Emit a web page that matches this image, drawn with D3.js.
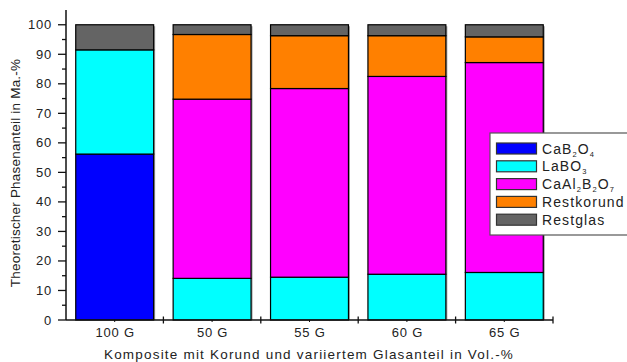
<!DOCTYPE html>
<html><head><meta charset="utf-8">
<script src="https://cdn.jsdelivr.net/npm/d3@7"></script>
<style>
body{margin:0;background:#fff;}
svg{display:block;font-family:"Liberation Sans",Arial,sans-serif;}
</style></head>
<body><svg id="c" width="627" height="362"></svg>
<script>
const categories = ["100 G","50 G","55 G","60 G","65 G"];
const seriesNames = ["CaB2O4","LaBO3","CaAl2B2O7","Restkorund","Restglas"];
const CaB2O4     = [56.2, 0,    0,    0,    0];
const LaBO3      = [35.3, 14.1, 14.5, 15.5, 16.1];
const CaAl2B2O7  = [0,    60.7, 63.9, 67.0, 71.1];
const Restkorund = [0,    21.9, 17.9, 13.8, 8.7];
const Restglas   = [8.5,  3.3,  3.7,  3.7,  4.1];
const yTicks = [0,10,20,30,40,50,60,70,80,90,100];
const colors = ["#0000ff","#00ffff","#ff00ff","#ff8000","#646464"];
// legend labels: [text, isSubscript] parts
const legendParts = [
  [["Ca",0],["B",0],["2",1],["O",0],["4",1]],
  [["LaBO",0],["3",1]],
  [["CaAl",0],["2",1],["B",0],["2",1],["O",0],["7",1]],
  [["Restkorund",0]],
  [["Restglas",0]]
];

const svg = d3.select("#c");
const x0 = 66, x1 = 553, yBase = 320, yTop = 10;
const x = d3.scaleBand().domain(categories).range([x0, x1]).paddingInner(0.2).paddingOuter(0.1);
const y = d3.scaleLinear().domain([0,105]).range([yBase, yTop]);

const rows = categories.map((c,i)=>({
  cat:c, CaB2O4:CaB2O4[i], LaBO3:LaBO3[i], CaAl2B2O7:CaAl2B2O7[i],
  Restkorund:Restkorund[i], Restglas:Restglas[i]
}));
const stack = d3.stack().keys(seriesNames)(rows);

// shadows
svg.append("g").selectAll("rect").data(rows).join("rect")
  .attr("x", d=>x(d.cat)+1.5).attr("width", x.bandwidth())
  .attr("y", y(100)+1.5).attr("height", yBase - y(100) - 1.5)
  .attr("fill","#a0a0a0");

const g = svg.append("g");
stack.forEach((s,k)=>{
  g.append("g").selectAll("rect").data(s.filter(d=>d[1]-d[0]>0)).join("rect")
    .attr("x", d=>x(d.data.cat)).attr("width", x.bandwidth())
    .attr("y", d=>y(d[1])).attr("height", d=>y(d[0])-y(d[1]))
    .attr("fill", colors[k]).attr("stroke","#000").attr("stroke-width",1.2);
});

// Y axis
const ya = svg.append("g").attr("stroke","#111");
ya.append("line").attr("x1",x0).attr("x2",x0).attr("y1",yTop).attr("y2",yBase).attr("stroke-width",1.5);
const minor = d3.range(5,105,10);
ya.selectAll("line.mj").data(yTicks).join("line").attr("class","mj")
  .attr("x1",x0-8).attr("x2",x0).attr("y1",d=>y(d)).attr("y2",d=>y(d)).attr("stroke-width",1.3);
ya.selectAll("line.mn").data(minor).join("line").attr("class","mn")
  .attr("x1",x0-4).attr("x2",x0).attr("y1",d=>y(d)).attr("y2",d=>y(d)).attr("stroke-width",1.3);
svg.append("g").selectAll("text").data(yTicks).join("text")
  .attr("x",52).attr("y",d=>y(d)+4.5).attr("text-anchor","end")
  .attr("font-size",13).attr("letter-spacing",0.8).attr("fill","#222").text(d=>d);

// X axis
const xa = svg.append("g").attr("stroke","#111");
xa.append("line").attr("x1",x0).attr("x2",x1).attr("y1",yBase).attr("y2",yBase).attr("stroke-width",1.5);
const bounds = categories.map(c=>x(c) - x.step()*x.paddingInner()/2 + x.step());
bounds.forEach(b=>{
  xa.append("line").attr("x1",b).attr("x2",b).attr("y1",yBase-3.5).attr("y2",yBase+3.5).attr("stroke-width",1.3);
});
categories.forEach(c=>{
  const cx = x(c)+x.bandwidth()/2;
  xa.append("line").attr("x1",cx).attr("x2",cx).attr("y1",yBase).attr("y2",yBase+2).attr("stroke-width",1);
});
svg.append("g").selectAll("text").data(categories).join("text")
  .attr("x",d=>x(d)+x.bandwidth()/2+0.5).attr("y",337).attr("text-anchor","middle")
  .attr("font-size",13).attr("letter-spacing",0.8).attr("fill","#222").text(d=>d);

// axis titles
svg.append("text").attr("x",309).attr("y",359).attr("text-anchor","middle")
  .attr("font-size",13.5).attr("letter-spacing",1.2).attr("fill","#222")
  .text("Komposite mit Korund und variiertem Glasanteil in Vol.-%");
svg.append("text").attr("transform","translate(20,173) rotate(-90)").attr("text-anchor","middle")
  .attr("font-size",13.5).attr("letter-spacing",0.2).attr("fill","#222")
  .text("Theoretischer Phasenanteil in Ma.-%");

// legend
const lg = svg.append("g");
lg.append("rect").attr("x",490).attr("y",133).attr("width",150).attr("height",102)
  .attr("fill","#fff").attr("stroke","#555").attr("stroke-width",1.2);
legendParts.forEach((parts,i)=>{
  const cy = 148.5 + i*17.8;
  lg.append("rect").attr("x",496.5).attr("y",cy-5.5).attr("width",40).attr("height",11)
    .attr("fill",colors[i]).attr("stroke","#333").attr("stroke-width",1.2);
  const t = lg.append("text").attr("x",542).attr("y",cy+5).attr("font-size",14)
    .attr("letter-spacing",1.1).attr("fill","#222");
  let prevSub = false;
  parts.forEach(([s,sub])=>{
    if(sub){ t.append("tspan").attr("font-size",7.5).attr("dy",3).text(s); }
    else { t.append("tspan").attr("dy", prevSub ? -3 : 0).text(s); }
    prevSub = !!sub;
  });
});
</script></body></html>
